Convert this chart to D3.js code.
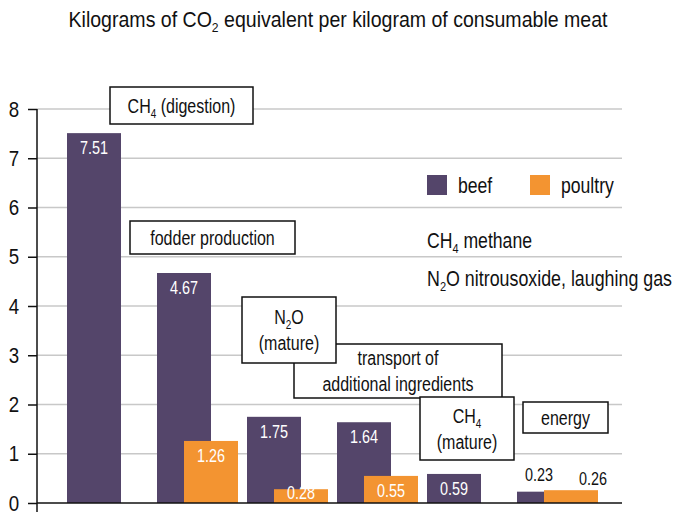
<!DOCTYPE html>
<html>
<head>
<meta charset="utf-8">
<script src="https://cdn.jsdelivr.net/npm/d3@7"></script>
<style>
  body { margin: 0; background: #fff; }
  svg { font-family: "Liberation Sans", Arial, sans-serif; }
</style>
</head>
<body>
<div id="chart"></div>
<script>
// Data
const categories = ["digestion", "fodder", "n2o", "transport", "ch4mature", "energy"];
const beef = [7.51, 4.67, 1.75, 1.64, 0.59, 0.23];
const poultry = [null, 1.26, 0.28, 0.55, null, 0.26];
const yTicks = [0, 1, 2, 3, 4, 5, 6, 7, 8];
const labelsAbove = ["energy"];

// annotation boxes ("_4" = subscript 4)
const notes = [
    { cat: "digestion", lines: ["CH_4 (digestion)"] },
    { cat: "fodder", lines: ["fodder production"] },
    { cat: "transport", lines: ["transport of", "additional ingredients"] },
    { cat: "n2o", lines: ["N_2O", "(mature)"] },
    { cat: "ch4mature", lines: ["CH_4", "(mature)"] },
    { cat: "energy", lines: ["energy"] }
];
// box layout relative to each group's band
const noteLayout = {
    digestion: { dx: 58, y: 87, w: 143, h: 37 },
    fodder: { dx: -12, y: 221, w: 165, h: 33 },
    transport: { dx: -28, y: 344, w: 208, h: 54 },
    n2o: { dx: 10, y: 297, w: 94, h: 66 },
    ch4mature: { dx: 8, y: 397, w: 94, h: 63 },
    energy: { dx: 21, y: 402, w: 85, h: 31 }
};

const width = 677, height = 512;
const beefColor = "#54456a", poultryColor = "#f39431";
const SX = 0.8; // horizontal squeeze to mimic a condensed face

const svg = d3.select("#chart").append("svg")
    .attr("width", width)
    .attr("height", height);

const x = d3.scaleBand().domain(categories).range([52, 592]).padding(0);
const y = d3.scaleLinear().domain([0, 8]).range([503, 109]);
const barW = 54;

// condensed text at (tx, ty)
function txt(parent, tx, ty, size, anchor, sx) {
    return parent.append("text")
        .attr("transform", `translate(${tx},${ty}) scale(${sx || SX},1)`)
        .attr("font-size", size)
        .attr("text-anchor", anchor || "start")
        .attr("fill", "#111");
}

// squeeze a text so it spans the given width
function fit(t, tx, ty, w) {
    const len = t.node().getComputedTextLength();
    t.attr("transform", `translate(${tx},${ty}) scale(${w / len},1)`);
}

// write text with "_n" subscripts as tspans
function rich(sel, str, size) {
    const parts = str.split(/_(\d)/);
    parts.forEach((p, i) => {
        if (!p) return;
        if (i % 2 === 1) {
            sel.append("tspan").attr("font-size", size * 0.62).attr("dy", 5).text(p);
        } else {
            const t = sel.append("tspan").text(p);
            if (i > 0) t.attr("dy", -5);
        }
    });
}

// title
const title = txt(svg, 338, 27, 22, "middle");
rich(title, "Kilograms of CO_2 equivalent per kilogram of consumable meat", 22);
fit(title, 338, 27, 539);

// grid
svg.append("g")
    .selectAll("line")
    .data(yTicks.filter(d => d > 0))
    .join("line")
    .attr("x1", 37).attr("x2", 622)
    .attr("y1", d => y(d)).attr("y2", d => y(d))
    .attr("stroke", "#c8c8c8")
    .attr("stroke-width", 1.5);

// y axis
const yAxis = svg.append("g")
    .attr("transform", "translate(37,0)")
    .call(d3.axisLeft(y).tickValues(yTicks).tickFormat(d3.format("d")).tickSize(9).tickPadding(12));
yAxis.select(".domain").remove();
yAxis.selectAll(".tick line").attr("stroke", "#111").attr("stroke-width", 1.5);
yAxis.selectAll(".tick text")
    .attr("font-size", 22)
    .attr("font-family", "Liberation Sans, Arial, sans-serif")
    .attr("transform", "scale(0.85,1)")
    .attr("fill", "#111");
svg.append("line")
    .attr("x1", 37).attr("x2", 37)
    .attr("y1", y(8)).attr("y2", height)
    .attr("stroke", "#111").attr("stroke-width", 1.5);

// bars
const beefData = categories.map((c, i) => ({ cat: c, v: beef[i], off: 15, color: beefColor, kind: "beef" }));
const poultryData = categories.map((c, i) => ({ cat: c, v: poultry[i], off: 42, color: poultryColor, kind: "poultry" }))
    .filter(d => d.v != null);
const allBars = beefData.concat(poultryData);

svg.append("g")
    .selectAll("rect")
    .data(allBars)
    .join("rect")
    .attr("x", d => x(d.cat) + d.off)
    .attr("y", d => y(d.v))
    .attr("width", barW)
    .attr("height", d => y(0) - y(d.v))
    .attr("fill", d => d.color);

// x baseline
svg.append("line")
    .attr("x1", 37).attr("x2", 622)
    .attr("y1", y(0)).attr("y2", y(0))
    .attr("stroke", "#111").attr("stroke-width", 1.5);

// value labels
const vg = svg.append("g");
allBars.forEach(d => {
    const above = labelsAbove.includes(d.cat);
    let lx = x(d.cat) + d.off + barW / 2;
    let ly = Math.min(y(d.v) + 21, y(0) - 4);
    if (above) {
        lx += d.kind === "beef" ? -5 : 22;
        ly = y(d.v) - (d.kind === "beef" ? 11 : 5);
    }
    txt(vg, lx, ly, 18, "middle")
        .attr("fill", above ? "#111" : "#fff")
        .text(d3.format(".2f")(d.v));
});

// annotation boxes
notes.forEach(n => {
    const L = noteLayout[n.cat];
    const bx = x(n.cat) + L.dx;
    const g = svg.append("g");
    g.append("rect")
        .attr("x", bx).attr("y", L.y)
        .attr("width", L.w).attr("height", L.h)
        .attr("fill", "#fff")
        .attr("stroke", "#111")
        .attr("stroke-width", 1.5);
    const lh = 26;
    const first = L.y + L.h / 2 - (n.lines.length - 1) * lh / 2 + 7;
    n.lines.forEach((line, i) => {
        const t = txt(g, bx + L.w / 2, first + i * lh, 20, "middle");
        rich(t, line, 20);
    });
});

// legend
const legendItems = [
    { name: "beef", color: beefColor, x: 427 },
    { name: "poultry", color: poultryColor, x: 530 }
];
const lg = svg.append("g");
legendItems.forEach(d => {
    lg.append("rect").attr("x", d.x).attr("y", 175).attr("width", 20).attr("height", 20).attr("fill", d.color);
    txt(lg, d.x + 31, 193, 22).text(d.name);
});
const notesText = ["CH_4 methane", "N_2O nitrousoxide, laughing gas"];
const notesW = [105, 245];
notesText.forEach((s, i) => {
    const ty = 248 + i * 38;
    const t = txt(svg, 427, ty, 22);
    rich(t, s, 22);
    fit(t, 427, ty, notesW[i]);
});
</script>
</body>
</html>
